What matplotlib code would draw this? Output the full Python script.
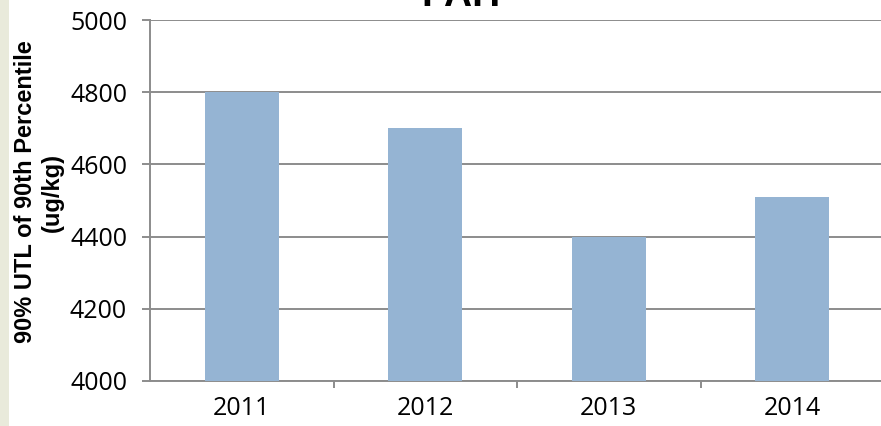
import matplotlib
matplotlib.use("Agg")
import matplotlib.pyplot as plt
from matplotlib.patches import Rectangle

years = ["2011", "2012", "2013", "2014"]
values = [4800, 4700, 4400, 4510]
yticks = [4000, 4200, 4400, 4600, 4800, 5000]

W, H = 881, 426
fig = plt.figure(figsize=(W / 100, H / 100), dpi=100)
fig.patch.set_facecolor("white")

# beige strip on the left edge
fig.patches.append(Rectangle((0, 0), 9 / W, 1, transform=fig.transFigure,
                             facecolor="#e9eadb", edgecolor="none", zorder=0))

left, right = 150 / W, 884 / W
bottom, top = 1 - 381 / H, 1 - 20 / H
ax = fig.add_axes([left, bottom, right - left, top - bottom])

x = list(range(len(years)))
ax.bar(x, [v - 4000 for v in values], bottom=4000, width=0.403,
       color="#95b4d3", zorder=3)

ax.set_xlim(-0.5, len(years) - 0.5)
ax.set_ylim(4000, 5000)
ax.set_yticks(yticks)
ax.set_yticklabels([str(t) for t in yticks], fontfamily="Open Sans", fontsize=18)
ax.set_xticks(x)
ax.set_xticklabels(years, fontfamily="Open Sans", fontsize=18)
ax.set_xticks([0.5, 1.5, 2.5], minor=True)

gray = "#8c8c8c"
ax.yaxis.grid(True, color=gray, linewidth=1.4, zorder=1)
ax.set_axisbelow(True)
ax.tick_params(axis="y", which="major", length=6, width=1.4, color=gray,
               pad=10.5, direction="out")
ax.tick_params(axis="x", which="major", length=0, pad=11)
ax.tick_params(axis="x", which="minor", length=5, width=1.4, color=gray,
               direction="out")
for s in ["top", "right"]:
    ax.spines[s].set_visible(False)
for s in ["left", "bottom"]:
    ax.spines[s].set_color(gray)
    ax.spines[s].set_linewidth(1.4)

fig.text(39 / W, 1 - 192 / H, "90% UTL of 90th Percentile\n(ug/kg)",
         rotation=90, ha="center", va="center", multialignment="center",
         fontfamily="Liberation Sans", fontweight="bold", fontsize=17,
         linespacing=1.2)

fig.text(461 / W, 1 - 6 / H, "PAH", ha="center", va="baseline",
         fontfamily="Liberation Sans", fontweight="bold", fontsize=28)

fig.savefig("out.png", dpi=100)
